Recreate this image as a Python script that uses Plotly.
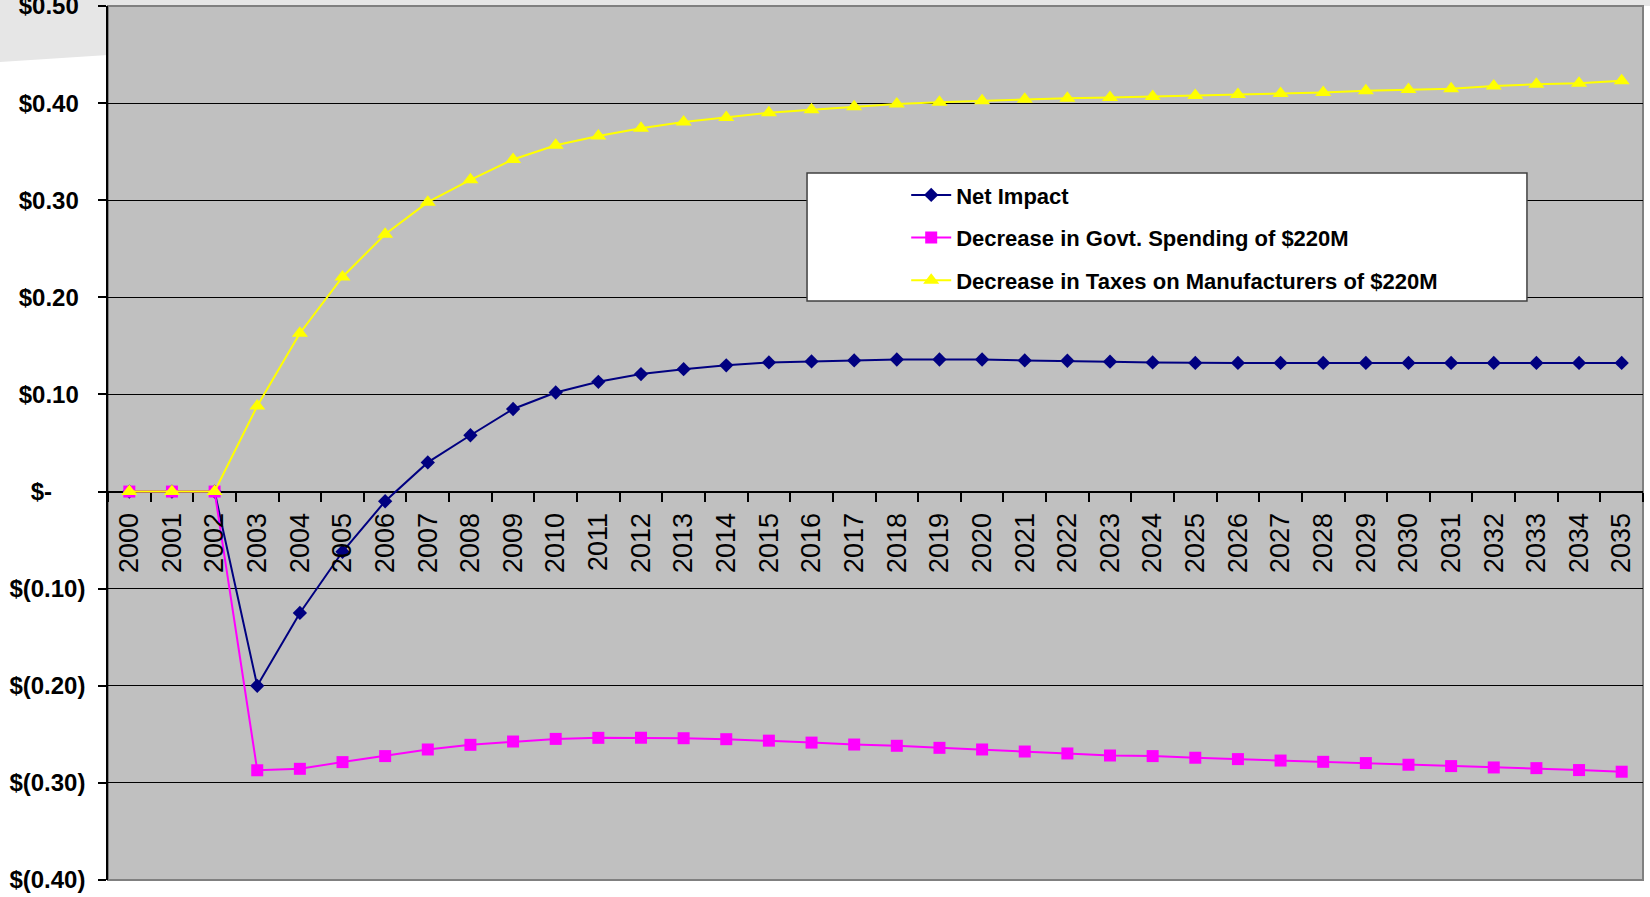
import plotly.graph_objects as go

years = ["2000", "2001", "2002", "2003", "2004", "2005", "2006", "2007", "2008", "2009",
         "2010", "2011", "2012", "2013", "2014", "2015", "2016", "2017", "2018", "2019",
         "2020", "2021", "2022", "2023", "2024", "2025", "2026", "2027", "2028", "2029",
         "2030", "2031", "2032", "2033", "2034", "2035"]

net_impact = [0.0, 0.0, 0.0, -0.200, -0.125, -0.062, -0.010, 0.030, 0.058, 0.085,
              0.102, 0.113, 0.121, 0.126, 0.130, 0.133, 0.134, 0.135, 0.136, 0.136,
              0.136, 0.135, 0.1347, 0.1337, 0.133, 0.1325, 0.1325, 0.1325, 0.1325, 0.1325,
              0.1325, 0.1325, 0.1325, 0.1325, 0.1325, 0.1325]

govt_spending = [0.0, 0.0, 0.0, -0.287, -0.2855, -0.2786, -0.2724, -0.2656, -0.2608, -0.2574,
                 -0.2547, -0.2536, -0.2535, -0.2540, -0.2550, -0.2565, -0.2585, -0.2605, -0.2618, -0.2639,
                 -0.2656, -0.2677, -0.2697, -0.2718, -0.2724, -0.2741, -0.2755, -0.2770, -0.2783, -0.2796,
                 -0.2813, -0.2827, -0.2841, -0.2848, -0.2868, -0.2885]

taxes = [0.0, 0.0, 0.0, 0.088, 0.163, 0.221, 0.265, 0.298, 0.321, 0.342,
         0.3566, 0.3662, 0.374, 0.3805, 0.3853, 0.390, 0.3932, 0.3963, 0.399, 0.401,
         0.4024, 0.404, 0.405, 0.4058, 0.4068, 0.4079, 0.4089, 0.410, 0.411, 0.4127,
         0.414, 0.4147, 0.4175, 0.4195, 0.4205, 0.423]

series_names = ["Net Impact",
                "Decrease in Govt. Spending of $220M",
                "Decrease in Taxes on Manufacturers of $220M"]

y_tickvals = [-0.4, -0.3, -0.2, -0.1, 0.0, 0.1, 0.2, 0.3, 0.4, 0.5]
NB = "\u00a0"
y_ticktext = ["$(0.40)", "$(0.30)", "$(0.20)", "$(0.10)", "$-" + NB * 5,
              "$0.10" + NB, "$0.20" + NB, "$0.30" + NB, "$0.40" + NB, "$0.50" + NB]

FONT = "Liberation Sans, Arial, sans-serif"

fig = go.Figure()
fig.add_trace(go.Scatter(
    x=years, y=net_impact, name=series_names[0], mode="lines+markers",
    line=dict(color="#000080", width=2),
    marker=dict(symbol="diamond", size=11, color="#000080"),
    legendgroup="a"))
fig.add_trace(go.Scatter(
    x=years, y=govt_spending, name=series_names[1], mode="lines+markers",
    line=dict(color="#FF00FF", width=2),
    marker=dict(symbol="square", size=12, color="#FF00FF"),
    legendgroup="b"))
fig.add_trace(go.Scatter(
    x=years, y=taxes, name=series_names[2], mode="lines+markers",
    line=dict(color="#FFFF00", width=2),
    marker=dict(symbol="triangle-up", size=14, color="#FFFF00"),
    legendgroup="c"))

fig.update_layout(
    width=1650, height=897, autosize=False,
    margin=dict(l=108, r=7, t=6, b=17, pad=0, autoexpand=False),
    paper_bgcolor="white",
    plot_bgcolor="#c0c0c0",
    showlegend=True,
    legend=dict(
        x=0.520, y=0.8076, xanchor="left", yanchor="top",
        bgcolor="rgba(0,0,0,0)", borderwidth=0,
        font=dict(family=FONT, size=22, color="black", weight="bold"),
        traceorder="grouped", tracegroupgap=11,
        itemwidth=40,
    ),
    xaxis=dict(
        type="category",
        anchor="free", position=0.4 / 0.9,
        range=[-0.5, 35.5],
        automargin=False,
        showgrid=False, zeroline=False, showline=False,
        ticks="outside", ticklen=9, tickwidth=1.5, tickcolor="black",
        tickson="boundaries",
        tickangle=-90,
        ticklabelstandoff=15,
        tickfont=dict(family=FONT, size=27, color="black"),
    ),
    yaxis=dict(
        range=[-0.4, 0.5],
        automargin=False,
        tickvals=y_tickvals, ticktext=y_ticktext,
        showgrid=True, gridcolor="black", gridwidth=1,
        zeroline=True, zerolinecolor="black", zerolinewidth=1.5,
        showline=True, linecolor="black", linewidth=1.5,
        ticks="outside", ticklen=8, tickwidth=1.5, tickcolor="black",
        ticklabelstandoff=8,
        ticklabeloverflow="allow",
        tickfont=dict(family=FONT, size=24, color="black", weight="bold"),
    ),
    shapes=[
        # light slide background wedge at top-left
        dict(type="path", xref="paper", yref="paper", layer="below",
             path="M -0.0704,1.0069 L 1.0046,1.0069 L 1.0046,1.0 L 0,1.0 L 0,0.9439 L -0.0704,0.9359 Z",
             fillcolor="#e6e6e6", line=dict(width=0)),
        # plot frame
        dict(type="rect", xref="paper", yref="paper", layer="below",
             x0=0, x1=1, y0=0, y1=1, line=dict(color="#808080", width=2)),
        # legend box
        dict(type="rect", xref="paper", yref="paper", layer="above",
             x0=0.4554, x1=0.9244, y0=0.6625, y1=0.8089,
             fillcolor="white", line=dict(color="#404040", width=1.5)),
    ],
)

fig.write_html("out.html")
